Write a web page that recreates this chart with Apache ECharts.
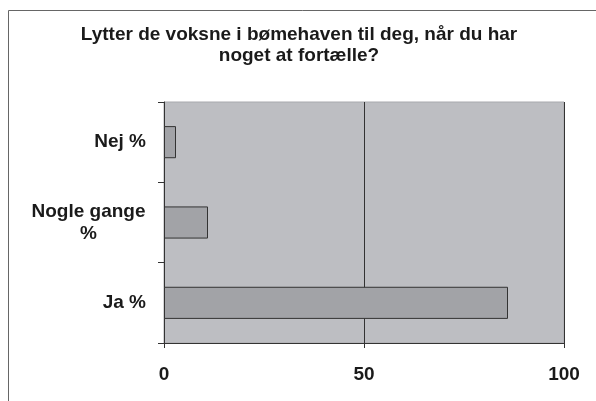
<!DOCTYPE html>
<html><head><meta charset="utf-8">
<script src="https://cdn.jsdelivr.net/npm/echarts@6/dist/echarts.min.js"></script>
<style>html,body{margin:0;padding:0;background:#fff}#c{width:596px;height:401px}</style>
</head><body><div id="c"></div>
<script>
const categories = ['Ja %', 'Nogle gange\n%', 'Nej %'];
const values = [86, 11, 3];
const xTicks = [0, 50, 100];
const titleText = 'Lytter de voksne i bømehaven til deg, når du har\nnoget at fortælle?';

const font = '"Liberation Sans", Arial, sans-serif';
const labelFontSize = 19;
const cv = document.createElement('canvas').getContext('2d');
cv.font = 'bold ' + labelFontSize + 'px "Liberation Sans"';

function fmt(v) {
  const lines = v.split('\n');
  if (lines.length === 1) return '{a|' + v + '}';
  return lines.map(l => '{c|' + l + '}').join('\n');
}
const wMulti = Math.ceil(cv.measureText('Nogle gange').width);

const chart = echarts.init(document.getElementById('c'), null, {renderer: 'canvas'});
const labelStyle = {fontFamily: font, fontSize: labelFontSize, fontWeight: 'bold', color: '#1a1a1a', lineHeight: 22};
chart.setOption({
  animation: false,
  backgroundColor: '#fff',
  graphic: [{
    type: 'rect', shape: {x: 8.5, y: 10.5, width: 620, height: 420},
    style: {fill: 'none', stroke: '#666', lineWidth: 1}, z: -1
  }],
  title: {
    text: titleText, left: 294, top: 19, textAlign: 'center',
    textStyle: {fontFamily: font, fontSize: 19, fontWeight: 'bold', color: '#1a1a1a', lineHeight: 21}
  },
  grid: {left: 164, right: 32, top: 102, bottom: 58, show: true, backgroundColor: '#bdbec2', borderWidth: 1, borderColor: '#a8a9ad'},
  xAxis: {
    type: 'value', min: xTicks[0], max: xTicks[xTicks.length - 1], interval: 50,
    axisLine: {show: true, lineStyle: {color: '#333', width: 1}},
    axisTick: {show: true, length: 5, lineStyle: {color: '#333'}},
    axisLabel: {fontFamily: font, fontSize: labelFontSize, fontWeight: 'bold', color: '#1a1a1a', margin: 22},
    splitLine: {show: true, lineStyle: {color: '#333', width: 1}}
  },
  yAxis: {
    type: 'category', data: categories,
    axisLine: {show: true, lineStyle: {color: '#333', width: 1}},
    axisTick: {show: true, length: 6, lineStyle: {color: '#333'}},
    axisLabel: {
      fontFamily: font, fontSize: labelFontSize, fontWeight: 'bold', color: '#1a1a1a', margin: 18, align: 'right',
      formatter: fmt,
      rich: {
        a: Object.assign({}, labelStyle),
        c: Object.assign({}, labelStyle, {width: wMulti, align: 'center'})
      }
    },
    splitLine: {show: false}
  },
  series: [{
    type: 'bar', data: values, barWidth: '40%',
    itemStyle: {color: '#a2a3a7', borderColor: '#333', borderWidth: 1}
  }]
});
</script></body></html>
